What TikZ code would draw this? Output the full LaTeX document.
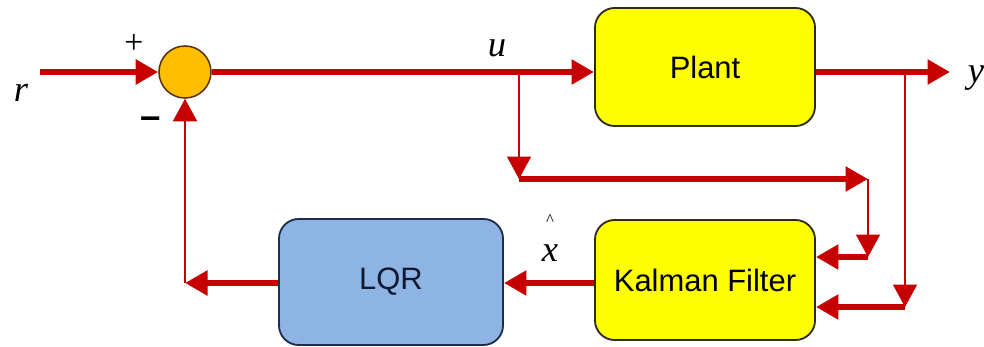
\documentclass[tikz,border=0pt]{standalone}
\usepackage{fontspec}
\setmainfont{Liberation Serif}
\setsansfont{Liberation Sans}
\usetikzlibrary{arrows.meta}

\definecolor{sigred}{RGB}{198,0,0}
\definecolor{blockyellow}{RGB}{255,255,0}
\definecolor{blockedge}{RGB}{45,45,20}
\definecolor{lqrblue}{RGB}{141,180,226}
\definecolor{lqredge}{RGB}{30,45,75}
\definecolor{lqrtext}{RGB}{15,25,50}
\definecolor{sumorange}{RGB}{255,190,0}
\definecolor{sumedge}{RGB}{90,50,10}

\begin{document}
\begin{tikzpicture}[x=0.025cm, y=-0.025cm,
    block/.style={
        draw=blockedge,
        fill=blockyellow,
        line width=1.3pt,
        rounded corners=14pt,
        minimum width=5.5cm,
        minimum height=2.95cm,
        font=\sffamily\fontsize{22}{26}\selectfont},
    sumnode/.style={
        draw=sumedge,
        fill=sumorange,
        line width=1.1pt,
        circle,
        minimum size=1.3cm},
    sig/.style={
        draw=sigred,
        line width=4pt,
        -{Triangle[length=16pt,width=17pt]}},
    tap/.style={
        draw=sigred,
        line width=1.5pt,
        -{Triangle[length=16pt,width=17pt]}},
    lbl/.style={
        font=\fontsize{26}{30}\selectfont,
        inner sep=0pt}]

    \useasboundingbox (0,0) rectangle (984,347);

    % blocks
    \node[sumnode] (sum) at (185,72) {};
    \node[block] (plant) at (705,67) {Plant};
    \node[block, minimum height=3cm] (kf) at (705,280) {Kalman Filter};
    \node[block, fill=lqrblue, draw=lqredge, text=lqrtext,
        minimum width=5.6cm, minimum height=3.15cm] (lqr) at (391,282) {LQR};

    % corners of the signal lines
    \coordinate (rin) at (40,72);
    \coordinate (yout) at (950,72);
    \coordinate (ubr) at (519,72);
    \coordinate (ucorner) at (519,179);
    \coordinate (uend) at (868,179);
    \coordinate (ukf) at (868,257);
    \coordinate (ybr) at (905,72);
    \coordinate (ykf) at (905,307);
    \coordinate (fb) at (185,283);

    \draw[sig] (rin) -- (sum);
    \draw[sig] (sum) -- (plant.west |- sum);
    \draw[sig] (plant.east |- sum) -- (yout);

    \draw[tap] (ubr) -- (ucorner);
    \draw[sig] (ucorner) -- (uend);
    \draw[tap] (uend) -- (ukf);
    \draw[sig] (ukf) -- (kf.east |- ukf);

    \draw[tap] (ybr) -- (ykf);
    \draw[sig] (ykf) -- (kf.east |- ykf);

    \draw[sig] (kf.west |- fb) -- (lqr.east |- fb);
    \draw[sig] (lqr.west |- fb) -- (fb);
    \draw[tap] (fb) -- (sum);

    % signal names
    \node[lbl] (rlbl) at (21,93) {\textit{r}};
    \node[lbl, font=\fontsize{24}{28}\selectfont] (plus) at (134,44) {+};
    \node[lbl, font=\sffamily\bfseries\fontsize{26}{30}\selectfont] (minus) at (151,123) {–};
    \node[lbl] (ulbl) at (497,48) {\textit{u}};
    \node[lbl] (ylbl) at (976,78) {\textit{y}};
    \node[lbl] (xlbl) at (550,253) {\textit{x}};
    \node[lbl, font=\fontsize{12}{14}\selectfont] (xhat) at (550,220) {\^{}};
\end{tikzpicture}
\end{document}
